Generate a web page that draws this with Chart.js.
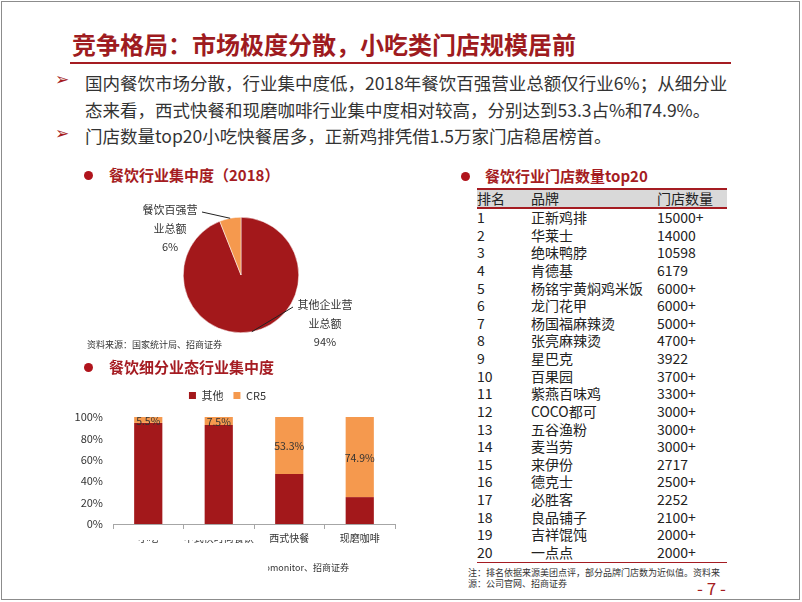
<!DOCTYPE html>
<html>
<head>
<meta charset="utf-8">
<script src="https://cdn.jsdelivr.net/npm/chart.js@4.4.1/dist/chart.umd.min.js"></script>
<style>
  body { margin: 0; background: #fff; font-family: "Noto Sans CJK SC", "Noto Sans", sans-serif; color: #333; }
  #page { position: relative; width: 802px; height: 602px; overflow: hidden; background: #fff; }
  .abs { position: absolute; white-space: nowrap; }
  .frame { position: absolute; left: 1px; top: 1px; width: 797px; height: 597px; border: 1px solid #8c8c8c; }
  .title { left: 72px; top: 28px; font-size: 24px; font-weight: bold; color: #9e1b20; line-height: 32px; }
  .rule { position: absolute; left: 70px; top: 62px; width: 661px; height: 2px; background: #a51c22; }
  .arrow { font-family: "DejaVu Sans"; font-size: 17px; font-weight: bold; color: #a51c22; }
  .body { font-size: 17.5px; line-height: 27px; color: #333; }
  .dot { position: absolute; width: 9px; height: 9px; border-radius: 50%; background: #b0141c; }
  .sub { font-size: 15px; font-weight: bold; color: #a51c22; line-height: 20px; }
  .src { font-size: 9px; color: #333; line-height: 11px; }
  table { border-collapse: collapse; font-size: 14px; color: #222; }
  th { font-weight: normal; text-align: left; background: #d9d9d9; height: 17px; padding: 0; line-height: 17px;
       border-top: 2px solid #a51c22; border-bottom: 2px solid #a51c22; }
  td { padding: 0; height: 17.63px; line-height: 17.63px; }
  tr.last td { border-bottom: 1.5px solid #a51c22; }
</style>
</head>
<body>
<div id="page">
  <div class="frame"></div>
  <div class="abs title">竞争格局：市场极度分散，小吃类门店规模居前</div>
  <div class="rule"></div>

  <div class="abs arrow" style="left:55px; top:69px;">➢</div>
  <div class="abs body" style="left:85px; top:69px;">国内餐饮市场分散，行业集中度低，2018年餐饮百强营业总额仅行业6%；从细分业<br>态来看，西式快餐和现磨咖啡行业集中度相对较高，分别达到53.3占%和74.9%。</div>
  <div class="abs arrow" style="left:55px; top:123px;">➢</div>
  <div class="abs body" style="left:85px; top:122px;">门店数量top20小吃快餐居多，正新鸡排凭借1.5万家门店稳居榜首。</div>

  <div class="dot" style="left:84px; top:171px;"></div>
  <div class="abs sub" style="left:109px; top:165px;">餐饮行业集中度（2018）</div>
  <canvas id="pieChart" class="abs" style="left:60px; top:195px;"></canvas>
  <div class="abs src" style="left:87px; top:339px;">资料来源：国家统计局、招商证券</div>

  <div class="dot" style="left:84px; top:363px;"></div>
  <div class="abs sub" style="left:109px; top:357px;">餐饮细分业态行业集中度</div>
  <canvas id="barChart" class="abs" style="left:60px; top:378px;"></canvas>
  <div class="abs src" style="left:100px; top:562px; width:249px; text-align:right;">资料来源：Euromonitor、招商证券</div>
  <div class="abs" style="left:113px; top:531px; width:156px; height:9px; background:#fff;"></div>
  <div class="abs" style="left:60px; top:556px; width:208px; height:22px; background:#fff;"></div>

  <div class="dot" style="left:461px; top:172px;"></div>
  <div class="abs sub" style="left:485px; top:166px;">餐饮行业门店数量top20</div>
  <table id="storeTable" class="abs" style="left:477px; top:188px; width:250px;"></table>
  <div class="abs src" style="left:468px; top:567px;">注：排名依据来源美团点评，部分品牌门店数为近似值。资料来<br>源：公司官网、招商证券</div>
  <div class="abs" style="left:697px; top:577px; font-size:17px; color:#a51c22; line-height:22px;">- 7 -</div>
</div>

<script>
// ---- pie: 餐饮行业集中度（2018）----
const pieLabels = ["其他企业营业总额", "餐饮百强营业总额"];
const pieValues = [94, 6];
const pieLabelLines = [["其他企业营", "业总额", "94%"], ["餐饮百强营", "业总额", "6%"]];

// ---- stacked bars: 餐饮细分业态行业集中度 ----
const barCategories = ["小吃", "中式快时尚餐饮", "西式快餐", "现磨咖啡"];
const otherShare = [94.5, 92.5, 46.7, 25.1];
const cr5Share = [5.5, 7.5, 53.3, 74.9];
const yTicks = [0, 20, 40, 60, 80, 100];

// ---- table: 餐饮行业门店数量top20 ----
const storeRanks = [1, 2, 3, 4, 5, 6, 7, 8, 9, 10, 11, 12, 13, 14, 15, 16, 17, 18, 19, 20];
const storeBrands = ["正新鸡排", "华莱士", "绝味鸭脖", "肯德基", "杨铭宇黄焖鸡米饭", "龙门花甲", "杨国福麻辣烫",
  "张亮麻辣烫", "星巴克", "百果园", "紫燕百味鸡", "COCO都可", "五谷渔粉", "麦当劳", "来伊份", "德克士",
  "必胜客", "良品铺子", "吉祥馄饨", "一点点"];
const storeCounts = ["15000+", "14000", "10598", "6179", "6000+", "6000+", "5000+", "4700+", "3922", "3700+",
  "3300+", "3000+", "3000+", "3000+", "2717", "2500+", "2252", "2100+", "2000+", "2000+"];

const RED = "#a3181b";
const ORANGE = "#f5994e";
const FONT = '"Noto Sans CJK SC", "Noto Sans", sans-serif';

function byId(id) {
  return document.getElementById(id);
}

/* ---------- pie ---------- */
// label blocks are placed relative to the pie centre, leader goes to the arc's mid point
const pieLabelSpots = [
  { dx: 84, dy: 30, lineX: 52, lineY: 32 },   // 其他
  { dx: -71, dy: -65, lineX: -39, lineY: -63 } // 百强
];

const pieLabelPlugin = {
  id: "pieLabels",
  afterDatasetsDraw(chart) {
    const ctx = chart.ctx;
    const meta = chart.getDatasetMeta(0);
    ctx.save();
    meta.data.forEach((arc, i) => {
      const spot = pieLabelSpots[i];
      const mid = (arc.startAngle + arc.endAngle) / 2;
      const ex = arc.x + Math.cos(mid) * arc.outerRadius;
      const ey = arc.y + Math.sin(mid) * arc.outerRadius;
      ctx.strokeStyle = "#222";
      ctx.lineWidth = 1;
      ctx.beginPath();
      ctx.moveTo(arc.x + spot.lineX, arc.y + spot.lineY);
      ctx.lineTo(ex, ey);
      ctx.stroke();

      ctx.fillStyle = "#333";
      ctx.font = "11px " + FONT;
      ctx.textAlign = "center";
      ctx.textBaseline = "middle";
      pieLabelLines[i].forEach((txt, k) => {
        ctx.fillText(txt, arc.x + spot.dx, arc.y + spot.dy + k * 18.5);
      });
    });
    ctx.restore();
  }
};

const pieCanvas = byId("pieChart");
pieCanvas.width = 360;
pieCanvas.height = 160;
new Chart(pieCanvas, {
  type: "pie",
  data: {
    labels: pieLabels,
    datasets: [{
      data: pieValues,
      backgroundColor: [RED, ORANGE],
      borderColor: "#fff",
      borderWidth: 0.5
    }]
  },
  options: {
    responsive: false,
    animation: false,
    layout: { padding: { left: 123, right: 121, top: 22, bottom: 22 } },
    plugins: { legend: { display: false }, tooltip: { enabled: false } }
  },
  plugins: [pieLabelPlugin]
});

/* ---------- stacked bars ---------- */
const barValuePlugin = {
  id: "barValues",
  afterDatasetsDraw(chart) {
    const ctx = chart.ctx;
    const meta = chart.getDatasetMeta(1);
    ctx.save();
    ctx.fillStyle = "#333";
    ctx.font = "10.5px " + FONT;
    ctx.textAlign = "center";
    ctx.textBaseline = "middle";
    meta.data.forEach((bar, i) => {
      ctx.fillText(cr5Share[i] + "%", bar.x, (bar.y + bar.base) / 2 + 1);
    });
    ctx.restore();
  }
};

// a bit more room between the legend and the plot
const legendGapPlugin = {
  id: "legendGap",
  beforeLayout(chart) {
    const lg = chart.legend;
    if (lg && !lg._gapPatched) {
      const fit = lg.fit.bind(lg);
      lg.fit = function () { fit(); this.height += 6; };
      lg._gapPatched = true;
    }
  }
};

const barCanvas = byId("barChart");
barCanvas.width = 360;
barCanvas.height = 182;
new Chart(barCanvas, {
  type: "bar",
  data: {
    labels: barCategories,
    datasets: [
      { label: "其他", data: otherShare, backgroundColor: RED },
      { label: "CR5", data: cr5Share, backgroundColor: ORANGE }
    ]
  },
  options: {
    responsive: false,
    animation: false,
    layout: { padding: { top: 2, right: 25 } },
    datasets: { bar: { categoryPercentage: 1, barPercentage: 0.4 } },
    scales: {
      x: {
        stacked: true,
        grid: { offset: true, drawOnChartArea: false, drawTicks: true, tickLength: 5, color: "#a6a6a6" },
        border: { color: "#a6a6a6" },
        ticks: { color: "#333", font: { size: 10, family: FONT }, padding: 3, maxRotation: 0, autoSkip: false },
        afterFit(scale) { scale.height = 36; }
      },
      y: {
        stacked: true,
        min: 0,
        max: 100,
        afterBuildTicks(scale) { scale.ticks = yTicks.map(v => ({ value: v })); },
        grid: { display: false, drawTicks: false },
        border: { display: false },
        ticks: { color: "#333", font: { size: 11, family: FONT }, padding: 10, callback: v => v + "%" },
        afterFit(scale) { scale.width = 53; }
      }
    },
    plugins: {
      legend: {
        position: "top",
        labels: { boxWidth: 7, boxHeight: 7, padding: 10, color: "#333", font: { size: 11, family: FONT } }
      },
      tooltip: { enabled: false }
    }
  },
  plugins: [barValuePlugin, legendGapPlugin]
});

/* ---------- table ---------- */
const table = byId("storeTable");
let html = '<colgroup><col style="width:54px"><col style="width:126px"><col style="width:70px"></colgroup>';
html += "<tr><th>排名</th><th>品牌</th><th>门店数量</th></tr>";
storeBrands.forEach((brand, i) => {
  const cls = i === storeBrands.length - 1 ? ' class="last"' : "";
  html += `<tr${cls}><td>${storeRanks[i]}</td><td>${brand}</td><td>${storeCounts[i]}</td></tr>`;
});
table.innerHTML = html;
</script>
</body>
</html>
